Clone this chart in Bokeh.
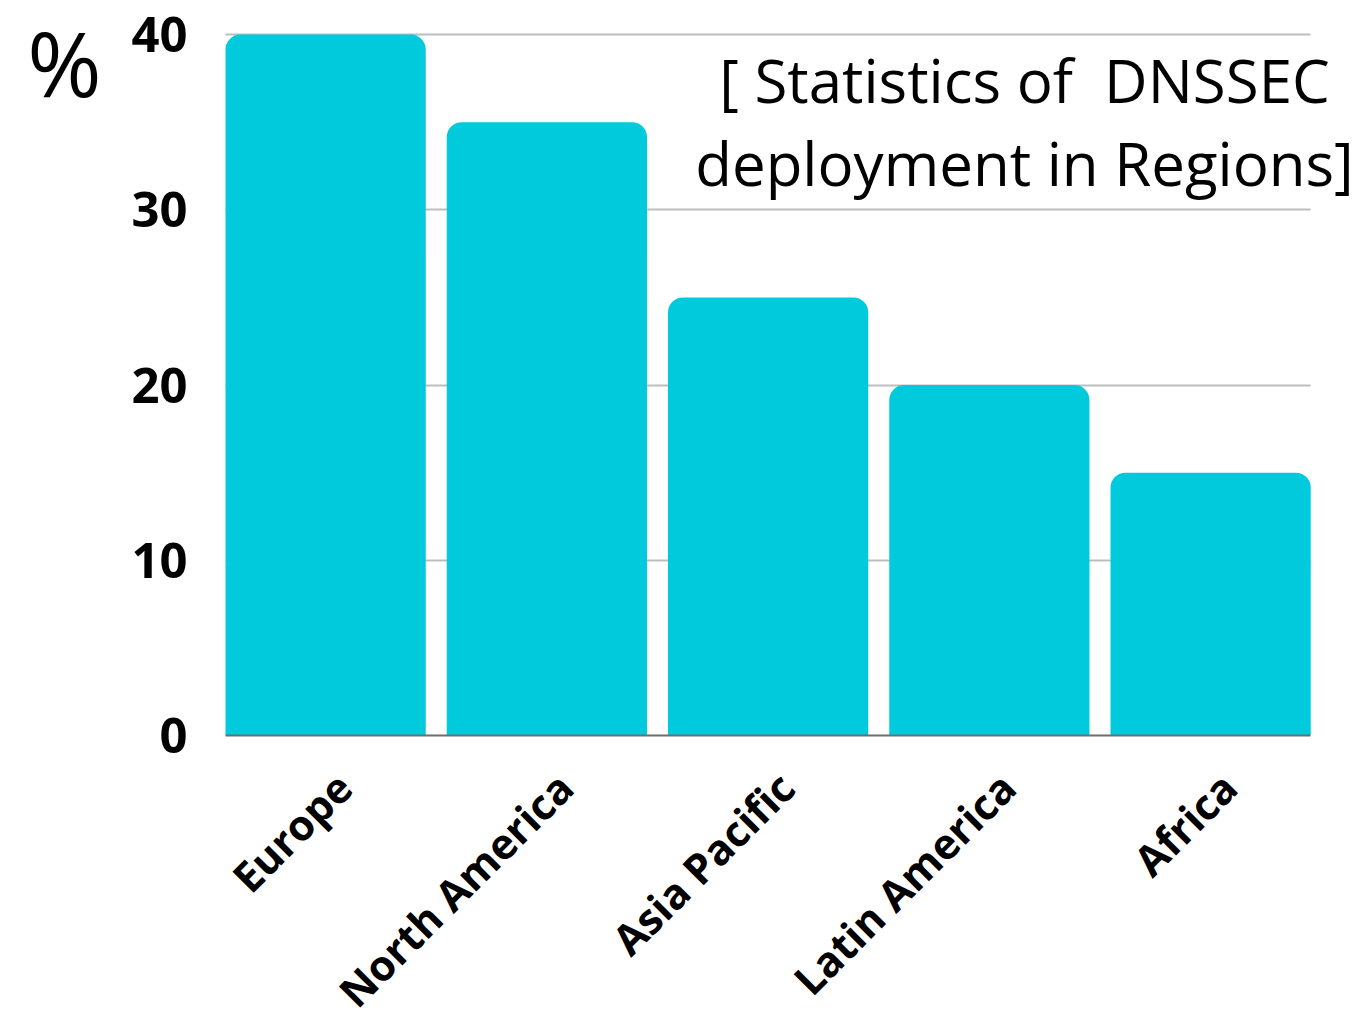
import math
from bokeh.plotting import figure
from bokeh.models import Range1d, FixedTicker, Label, ColumnDataSource
from bokeh.embed import file_html
from bokeh.resources import INLINE

categories = ["Europe", "North America", "Asia Pacific", "Latin America", "Africa"]
values = [40, 35, 25, 20, 15]
y_ticks = [0, 10, 20, 30, 40]
title_lines = ["[ Statistics of \u00a0DNSSEC", "deployment in Regions]"]
unit_label = "%"

FONT = "Open Sans"
BAR_COLOR = "#00CADB"
GRID_COLOR = "#BDBDBD"
bar_width = 0.905

# layout (pixels) of the plotting area inside the canvas
W, H = 1356, 1018
LEFT, TOP, BOTTOM_Y = 225, 34, 735          # frame left edge, y of top value, y of zero line
PX_PER_CAT = 221.25
PX_PER_UNIT = (BOTTOM_Y - TOP) / 40.0
LABEL_DX = 18 / PX_PER_CAT                  # small horizontal nudge of category labels

n = len(categories)
xpos = [i + 0.5 for i in range(n)]
src = ColumnDataSource(dict(x=xpos, top=values, cat=categories))

x_start = 0.5 - bar_width / 2
bar_span = (x_start, n - 0.5 + bar_width / 2)
xr = Range1d(x_start - LEFT / PX_PER_CAT, x_start + (W - LEFT) / PX_PER_CAT)
yr = Range1d(-(H - BOTTOM_Y) / PX_PER_UNIT, 40 + TOP / PX_PER_UNIT)


def sx(px):
    return x_start + (px - LEFT) / PX_PER_CAT


def sy(py):
    return 40 - (py - TOP) / PX_PER_UNIT


p = figure(width=W, height=H, output_backend="svg", toolbar_location=None,
           x_range=xr, y_range=yr)
p.min_border = 0
p.outline_line_color = None
p.background_fill_color = "white"
p.border_fill_color = "white"

# grid lines only across the bars' span
grid_ok = True
try:
    p.ygrid[0].cross_bounds = bar_span
except Exception:
    grid_ok = False
p.xgrid.grid_line_color = None
if grid_ok:
    p.ygrid.ticker = FixedTicker(ticks=y_ticks[1:])
    p.ygrid.grid_line_color = GRID_COLOR
    p.ygrid.grid_line_width = 2
else:
    p.ygrid.grid_line_color = None
    gt = y_ticks[1:]
    p.segment(x0=[bar_span[0]] * len(gt), x1=[bar_span[1]] * len(gt), y0=gt, y1=gt,
              line_color=GRID_COLOR, line_width=2, level="underlay")

p.vbar(x="x", top="top", bottom=0, width=bar_width, source=src,
       fill_color=BAR_COLOR, line_color=None, border_radius=(15, 15, 0, 0))

# y axis (placed at the left edge of the bars)
p.yaxis.fixed_location = x_start
p.yaxis.bounds = (0, 40)
p.yaxis.ticker = FixedTicker(ticks=y_ticks)
p.yaxis.axis_line_color = None
p.yaxis.major_tick_line_color = None
p.yaxis.minor_tick_line_color = None
p.yaxis.major_tick_in = 0
p.yaxis.major_tick_out = 0
p.yaxis.major_label_standoff = 38
p.yaxis.major_label_text_font = FONT
p.yaxis.major_label_text_font_style = "bold"
p.yaxis.major_label_text_font_size = "49px"
p.yaxis.major_label_text_color = "black"

# x axis (placed at zero)
tick_x = [x + LABEL_DX for x in xpos]
p.xaxis.fixed_location = 0
p.xaxis.ticker = FixedTicker(ticks=tick_x)
p.xaxis.bounds = bar_span
p.xaxis.major_label_overrides = {x: c for x, c in zip(tick_x, categories)}
p.xaxis.major_label_orientation = math.pi / 4
p.xaxis.axis_line_color = "#6E6E6E"
p.xaxis.axis_line_width = 2
p.xaxis.major_tick_line_color = None
p.xaxis.minor_tick_line_color = None
p.xaxis.major_tick_in = 0
p.xaxis.major_tick_out = 0
p.xaxis.major_label_standoff = 44
p.xaxis.major_label_text_font = FONT
p.xaxis.major_label_text_font_style = "bold"
p.xaxis.major_label_text_font_size = "42px"
p.xaxis.major_label_text_color = "black"

# "%" unit mark at the top left
p.add_layout(Label(x=sx(64), y=sy(61), text=unit_label, text_font=FONT,
                   text_font_size="90px", text_align="center",
                   text_baseline="alphabetic", text_color="black"))

# two-line title at the top right
for line, base in zip(title_lines, [79, 162]):
    p.add_layout(Label(x=sx(1024), y=sy(base), text=line,
                       text_font=FONT, text_font_size="60px", text_align="center",
                       text_baseline="alphabetic", text_color="black"))

open("out.html", "w").write(file_html(p, INLINE))
